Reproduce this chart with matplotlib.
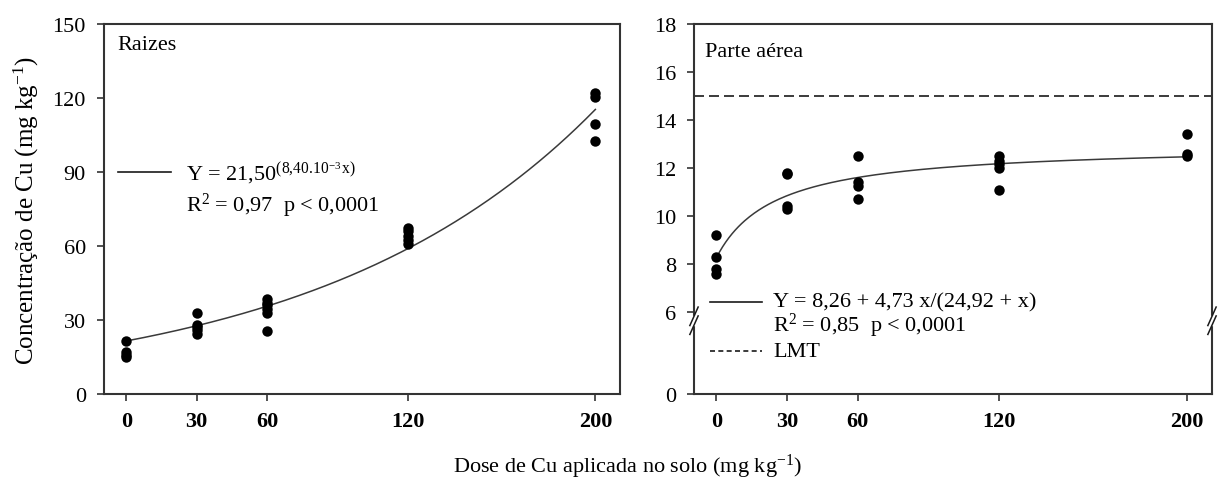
import numpy as np
import matplotlib
matplotlib.use("Agg")
import matplotlib.pyplot as plt

plt.rcParams['font.family'] = ['Liberation Serif', 'DejaVu Serif']
plt.rcParams['mathtext.fontset'] = 'custom'
plt.rcParams['mathtext.rm'] = 'Liberation Serif'
plt.rcParams['mathtext.it'] = 'Liberation Serif:italic'

# Doses of Cu applied to the soil (mg kg-1)
doses = [0, 30, 60, 120, 200]

# Cu concentration in roots (Raizes), replicate observations per dose
root_x = [0, 0, 0, 0,
          30, 30, 30, 30, 30,
          60, 60, 60, 60, 60, 60,
          120, 120, 120, 120, 120,
          200, 200, 200, 200]
root_y = [21.5, 17.0, 16.0, 15.2,
          33.0, 28.0, 27.0, 26.0, 24.5,
          38.5, 37.0, 36.0, 34.5, 33.0, 25.5,
          67.5, 66.0, 64.0, 62.5, 61.0,
          122.0, 120.5, 109.5, 102.5]

# Cu concentration in shoots (Parte aerea)
shoot_x = [0, 0, 0, 0,
           30, 30, 30, 30,
           60, 60, 60, 60,
           120, 120, 120, 120, 120,
           200, 200, 200]
shoot_y = [9.2, 8.3, 7.8, 7.6,
           11.8, 11.75, 10.4, 10.3,
           12.5, 11.4, 11.25, 10.7,
           12.5, 12.3, 12.15, 12.0, 11.1,
           13.4, 12.6, 12.5]

# Fitted model coefficients
root_a, root_b = 21.50, 8.40e-3
shoot_a, shoot_b, shoot_c = 8.26, 4.73, 24.92
lmt = 15.0

root_yticks = [0, 30, 60, 90, 120, 150]
shoot_yticks = [0, 6, 8, 10, 12, 14, 16, 18]

FS = 16
INK = '#1a1a1a'

fig = plt.figure(figsize=(12.19, 4.81), dpi=100)
ax1 = fig.add_axes([104 / 1219, 86 / 481, 516 / 1219, 370 / 481])
ax2 = fig.add_axes([694 / 1219, 86 / 481, 518 / 1219, 370 / 481])

for ax in (ax1, ax2):
    for s in ax.spines.values():
        s.set_linewidth(1.5)
        s.set_color('#333333')
    ax.set_xlim(-9.5, 210.5)
    ax.set_xticks(doses)
    ax.set_xticklabels([str(d) for d in doses], fontsize=FS, fontweight='bold')
    ax.tick_params(axis='both', direction='out', length=5, width=1.2, color='#333333')
    ax.tick_params(axis='x', pad=7)
    ax.tick_params(axis='y', pad=8, labelsize=FS)

xx = np.linspace(0, 200, 300)

# Roots panel
ax1.set_ylim(0, 150)
ax1.set_yticks(root_yticks)
ax1.plot(xx, root_a * np.exp(root_b * xx), color='#3a3a3a', lw=1.1)
ax1.plot(root_x, root_y, 'o', color='black', ms=7.5, mew=0)
ax1.text(0.025, 0.945, 'Raizes', transform=ax1.transAxes, fontsize=FS,
         va='center', ha='left')
ax1.plot([0.027, 0.13], [0.6, 0.6], transform=ax1.transAxes, color=INK, lw=1.2)
ax1.text(0.158, 0.6, r'Y = 21,50$^{(8{,}40.10^{-3}\,\mathrm{x})}$', transform=ax1.transAxes,
         fontsize=FS, va='center', ha='left')
ax1.text(0.158, 0.512, r'R$^2$ = 0,97  p < 0,0001', transform=ax1.transAxes,
         fontsize=FS, va='center', ha='left')
ax1.set_ylabel(r'Concentração de Cu (mg kg$^{-1}$)', fontsize=18, labelpad=8)

# Shoots panel with a broken y axis below 6
k = 0.57


def fwd(y):
    y = np.asarray(y, dtype=float)
    return np.where(y >= 6, y, 6 - (6 - y) * k)


def inv(v):
    v = np.asarray(v, dtype=float)
    return np.where(v >= 6, v, 6 - (6 - v) / k)


ax2.set_yscale('function', functions=(fwd, inv))
ax2.set_ylim(0, 18)
ax2.set_yticks(shoot_yticks)
ax2.set_yticklabels([str(t) for t in shoot_yticks])
ax2.axhline(lmt, color=INK, lw=1.2, ls=(0, (6, 3)))
ax2.plot(xx, shoot_a + shoot_b * xx / (shoot_c + xx), color='#3a3a3a', lw=1.1)
ax2.plot(shoot_x, shoot_y, 'o', color='black', ms=7.5, mew=0)
ax2.text(0.021, 0.927, 'Parte aérea', transform=ax2.transAxes, fontsize=FS,
         va='center', ha='left')
ax2.plot([0.03, 0.132], [0.249, 0.249], transform=ax2.transAxes, color=INK, lw=1.2)
ax2.text(0.153, 0.249, 'Y = 8,26 + 4,73 x/(24,92 + x)', transform=ax2.transAxes,
         fontsize=FS, va='center', ha='left')
ax2.text(0.153, 0.186, r'R$^2$ = 0,85  p < 0,0001', transform=ax2.transAxes,
         fontsize=FS, va='center', ha='left')
ax2.plot([0.03, 0.132], [0.116, 0.116], transform=ax2.transAxes, color=INK, lw=1.2,
         ls=(0, (3, 2)))
ax2.text(0.153, 0.116, 'LMT', transform=ax2.transAxes, fontsize=FS,
         va='center', ha='left')

# Break marks on both vertical spines
yb = 0.198
for xs in (0.0, 1.0):
    ax2.add_patch(plt.Rectangle((xs - 0.006, yb - 0.012), 0.012, 0.024,
                                transform=ax2.transAxes, color='white',
                                clip_on=False, zorder=5))
    for dy in (-0.012, 0.012):
        ax2.plot([xs - 0.008, xs + 0.008], [yb + dy - 0.025, yb + dy + 0.025],
                 transform=ax2.transAxes, color=INK, lw=1.1, clip_on=False, zorder=6)

fig.text(627 / 1219, 14 / 481, r'Dose de Cu aplicada no solo (mg kg$^{-1}$)',
         fontsize=FS, ha='center', va='center')

fig.savefig('out.png', dpi=100)
